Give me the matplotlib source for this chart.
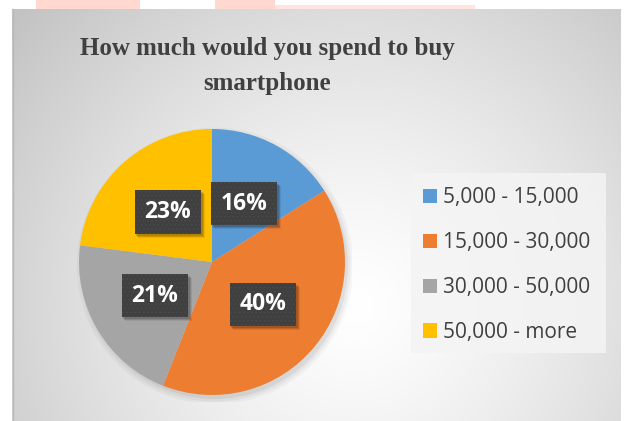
import numpy as np
import matplotlib
matplotlib.use("Agg")
import matplotlib.pyplot as plt
from matplotlib.patches import Rectangle, Circle
from matplotlib.transforms import offset_copy, IdentityTransform

# Datos del grafico
titulo = "How much would you spend to buy\nsmartphone"
rangos = ["5,000 - 15,000", "15,000 - 30,000", "30,000 - 50,000", "50,000 - more"]
porcentajes = [16, 40, 21, 23]
colores = ["#5B9BD5", "#ED7D31", "#A5A5A5", "#FFC000"]

W, H = 625, 421
plt.rcParams["hatch.linewidth"] = 0.6
fig = plt.figure(figsize=(W / 100, H / 100), dpi=100)
fig.patch.set_facecolor("white")

# Eje de fondo en coordenadas de pixel
bg = fig.add_axes([0, 0, 1, 1])
bg.axis("off")

# Marca de agua (rosa) arriba
bg.add_patch(Rectangle((36, 0), 104, 9, fc="#ffd8d0", ec="none"))
bg.add_patch(Rectangle((215, 0), 60, 9, fc="#ffd8d0", ec="none"))
bg.add_patch(Rectangle((275, 5), 200, 4, fc="#ffe4e0", ec="none"))

# Fondo con degradado radial
x0, x1, y0, y1 = 12, 621, 9, 421
xx, yy = np.meshgrid(np.arange(x0, x1), np.arange(y0, y1))
d = np.hypot(xx - 355, yy - 305)
t = np.clip(d / 445, 0, 1)
g = 1 - 0.235 * t ** 1.3
img = np.dstack([g, g, g])
bg.imshow(img, extent=[x0, x1, y1, y0], aspect="auto", zorder=0)
bg.set_xlim(0, W)
bg.set_ylim(H, 0)
bg.plot([x0 + 0.5, x0 + 0.5], [y0, y1], color="#b8b8b8", lw=1, zorder=1)

# Titulo
bg.text(267, 66, titulo, ha="center", va="center", fontsize=18,
        fontfamily="Liberation Serif", fontweight="bold", color="#404040",
        linespacing=1.62, zorder=2)

# Leyenda: caja
bg.add_patch(Rectangle((411, 173), 195, 180, fc="#f4f4f4", ec="none",
                       alpha=0.85, zorder=1))

# Pastel
cx, cy, r = 212, 262, 133
ax = fig.add_axes([(cx - r * 1.05) / W, 1 - (cy + r * 1.05) / H,
                   2.1 * r / W, 2.1 * r / H])
ax.axis("off")

# sombra del pastel
sombra = offset_copy(ax.transData, fig=fig, x=3, y=-4, units="dots")
for rr, a in [(1.04, 0.03), (1.02, 0.04), (1.0, 0.06)]:
    ax.add_patch(Circle((0, 0), rr, fc="black", ec="none", alpha=a,
                        transform=sombra, zorder=0))

wedges, _, autotexts = ax.pie(
    porcentajes, colors=colores, startangle=90, counterclock=False,
    autopct="%d%%", pctdistance=0.5, radius=1,
    wedgeprops=dict(edgecolor="none", linewidth=0),
    textprops=dict(color="white", fontsize=16.5, fontfamily="Open Sans",
                   fontweight="bold"),
)
ax.set_xlim(-1.05, 1.05)
ax.set_ylim(-1.05, 1.05)

for at in autotexts:
    at.set_zorder(5)
    at.set_bbox(dict(boxstyle="square,pad=0.42", fc="#404040", ec="#4a4a4a",
                     lw=0, hatch="...."))

# sombras de las etiquetas (rectangulos desplazados, en pixeles)
fig.canvas.draw()
renderer = fig.canvas.get_renderer()
for at in autotexts:
    ext = at.get_bbox_patch().get_window_extent(renderer)
    for k, a in [(4, 0.08), (3, 0.12), (2, 0.14)]:
        p = Rectangle((ext.x0 + k - 1, ext.y0 - k), ext.width + 1, ext.height,
                      fc="black", ec="none", alpha=a)
        p.set_transform(IdentityTransform())
        ax.add_artist(p)
        p.set_zorder(4)

# Leyenda
bg.legend(wedges, rangos, loc="upper left", bbox_to_anchor=(423, 187),
          bbox_transform=bg.transData, frameon=False,
          prop=dict(family="Open Sans", size=15),
          labelcolor="#404040", handlelength=0.67, handleheight=0.67,
          handletextpad=0.3, labelspacing=1.15, borderpad=0, borderaxespad=0)

fig.savefig("out.png", dpi=100)
